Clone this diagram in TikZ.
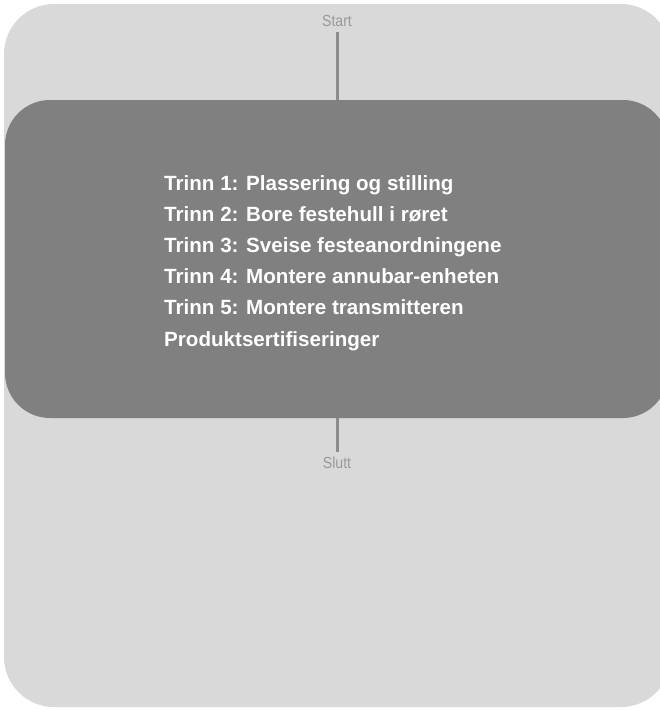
\documentclass[tikz,border=0pt]{standalone}
\usepackage{fontspec}
\setmainfont{Liberation Sans}
\definecolor{bglight}{HTML}{D9D9D9}
\definecolor{boxdark}{HTML}{808080}
\definecolor{linegray}{HTML}{8C8C8C}
\definecolor{labelgray}{HTML}{999999}
\begin{document}
\begin{tikzpicture}[x=1pt,y=-1pt,
  endlabel/.style={inner sep=0pt, text=labelgray, font=\fontsize{16}{18}\selectfont},
  conn/.style={draw=linegray, line width=3pt},
  itemtext/.style={inner sep=0pt, text=white, align=left, font=\fontsize{20.6}{31.2}\selectfont\bfseries}]
\useasboundingbox (0,0) rectangle (660,710);
\clip (0,0) rectangle (660,710);
\fill[bglight, rounded corners=50pt] (4,4) rectangle (671,707);
\node[fill=boxdark, rounded corners=45pt, minimum width=663pt, minimum height=318pt, inner sep=0pt, draw=none] (box) at (336.5,259) {};
\node[endlabel, anchor=base] (start) at (337,26) {\scalebox{0.88}[1]{Start}};
\node[endlabel, anchor=base] (slutt) at (337,468) {\scalebox{0.88}[1]{Slutt}};
\node[itemtext, anchor=base west] (items) at (164,346) {Trinn 1: Plassering og stilling\\Trinn 2: Bore festehull i røret\\Trinn 3: Sveise festeanordningene\\Trinn 4: Montere annubar-enheten\\Trinn 5: Montere transmitteren\\Produktsertifiseringer};
\draw[conn] ([yshift=-6pt]start.south) -- (start.south |- box.north);
\draw[conn] (slutt.north |- box.south) -- ([yshift=4pt]slutt.north);
\end{tikzpicture}
\end{document}
